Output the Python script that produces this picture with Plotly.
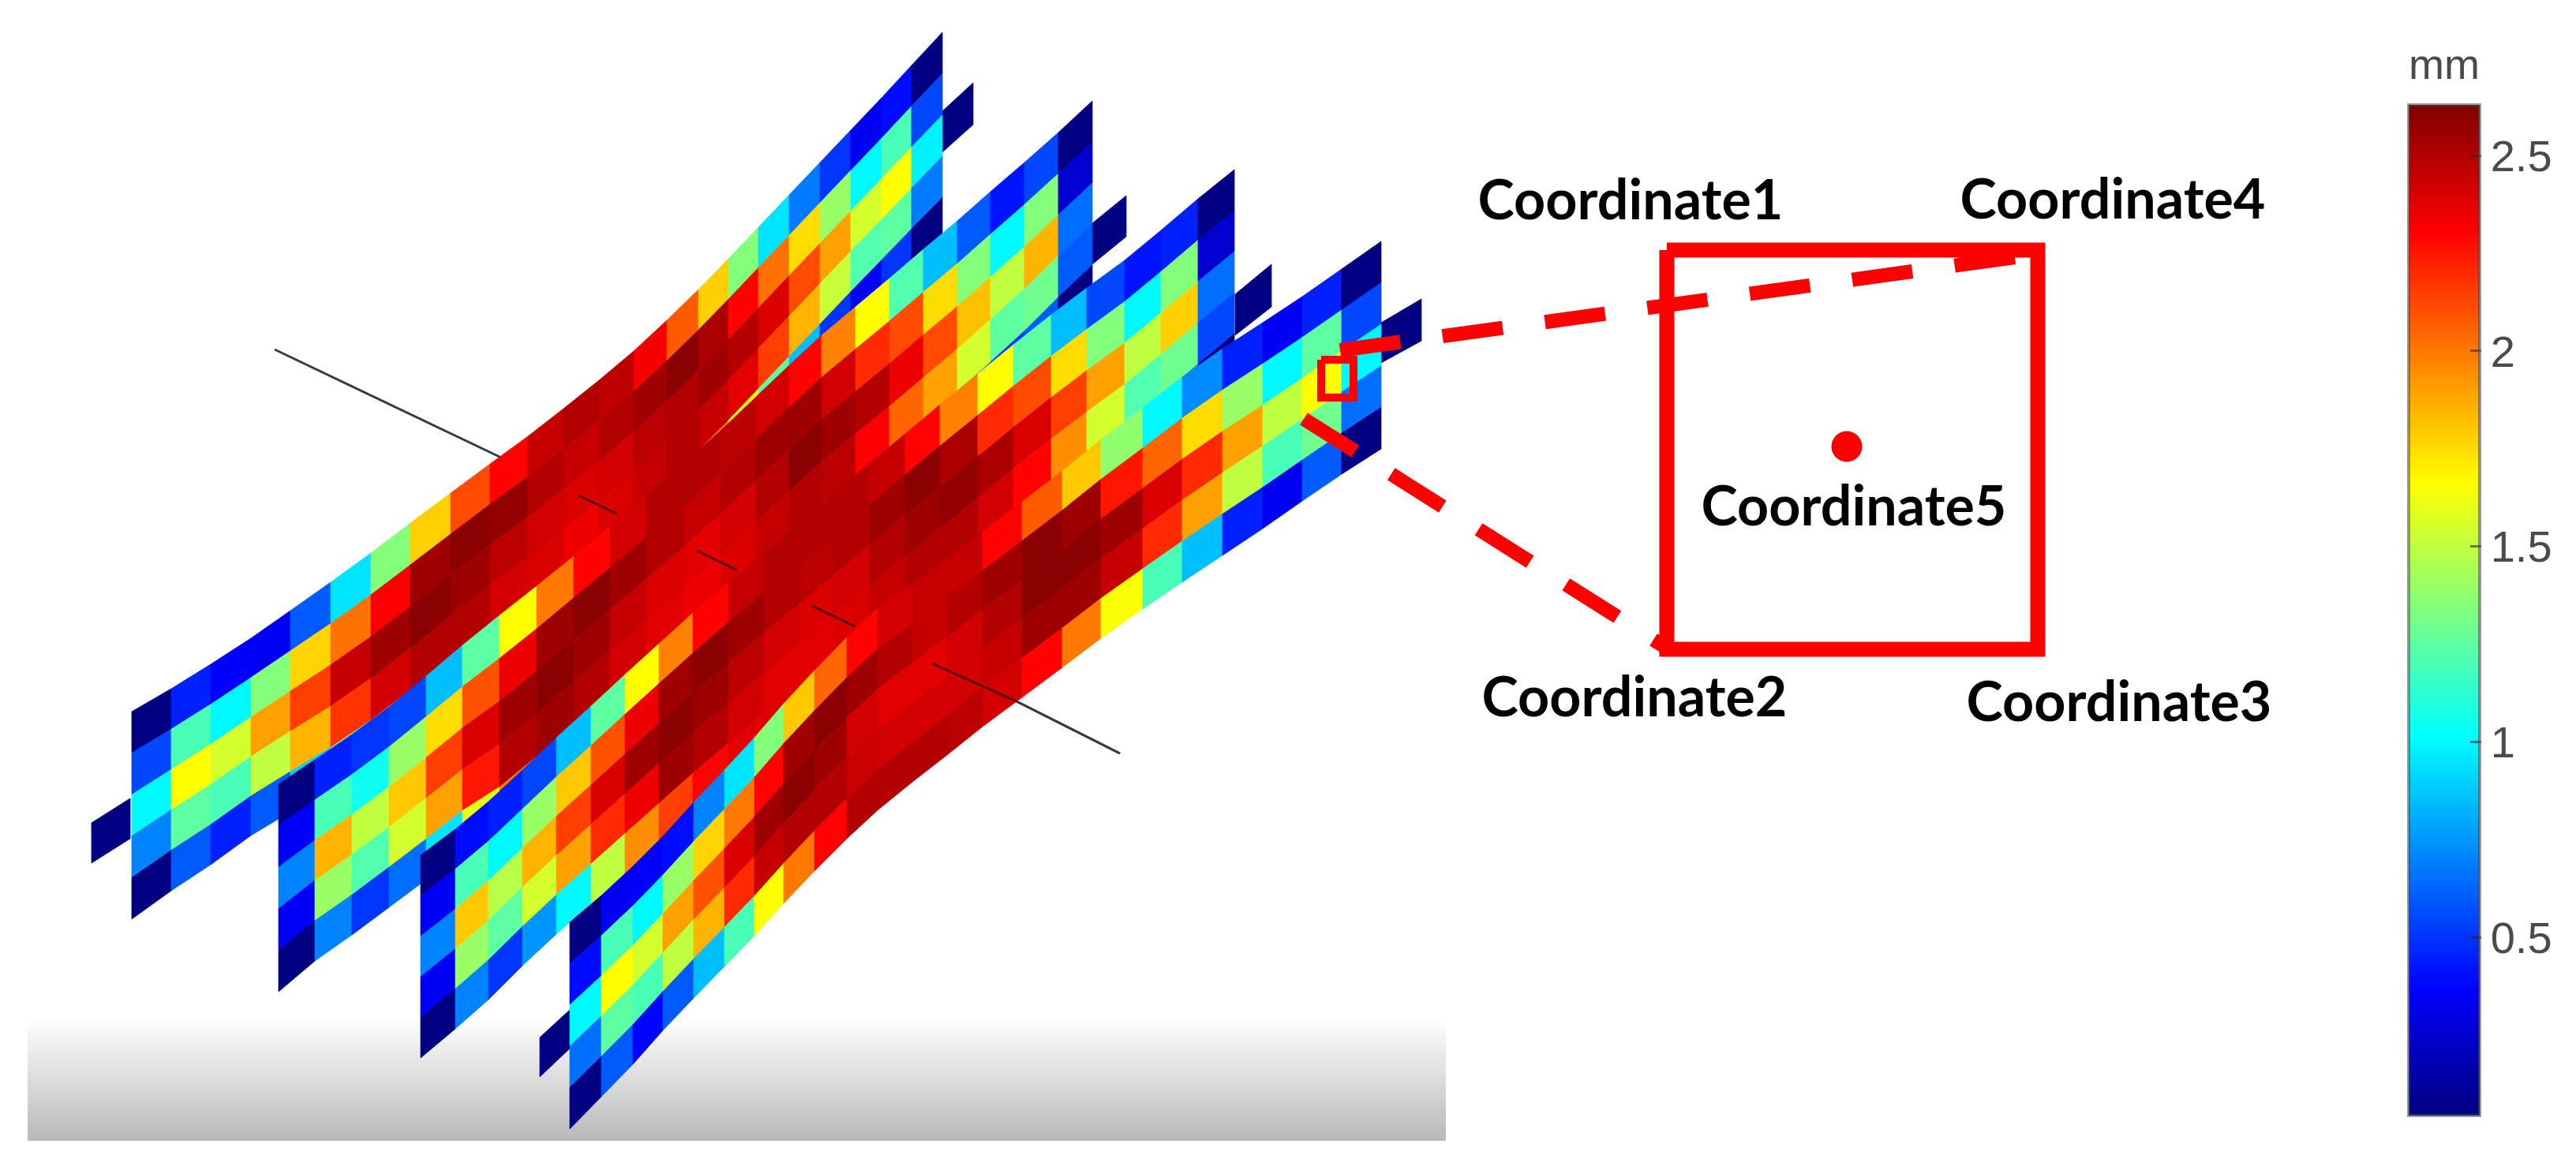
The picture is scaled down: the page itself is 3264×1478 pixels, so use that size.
import plotly.graph_objects as go
from plotly.colors import sample_colorscale

# ---------- colour scale ----------
VMIN, VMAX = 0.046, 2.63
JET = [[0, "#00007f"], [0.125, "#0000ff"], [0.375, "#00ffff"],
       [0.625, "#ffff00"], [0.875, "#ff0000"], [1, "#7f0000"]]
TICKS = [0.5, 1, 1.5, 2, 2.5]
TICK_LABELS = ["0.5", "1", "1.5", "2", "2.5"]

# ---------- mesh nodes of the four strips (image coordinates) ----------
A_x = [167,217,267,318,368,419,470,520,571,621,669,714,759,803,845,885,923,961,1000,1039,1078,1117,1155,1194]
A_top = [902,873,842,809,774,738,701,663,625,588,553,518,482,445,406,367,328,288,247,206,165,124,83,41]
A_bot = [1165,1129,1096,1059,1029,1000,966,928,885,844,809,774,738,701,662,623,584,544,503,462,421,381,342,303]

B_x = [353,399,446,493,540,586,633,680,727,773,819,866,913,958,1000,1041,1084,1127,1170,1213,1255,1298,1341,1384]
B_top = [994,963,931,896,857,818,780,743,705,667,628,588,546,503,463,425,389,353,316,280,243,206,168,128]
B_bot = [1257,1218,1185,1150,1115,1080,1052,1013,969,931,893,853,811,769,729,692,657,623,587,551,513,473,429,388]

C_x = [533,577,619,662,705,749,792,835,878,923,968,1012,1057,1102,1147,1191,1239,1284,1332,1377,1425,1471,1518,1564]
C_top = [1084,1051,1016,976,935,895,855,816,777,738,700,663,625,587,550,513,474,437,399,365,330,292,252,215]
C_bot = [1341,1304,1267,1224,1184,1145,1107,1069,1031,993,956,921,884,847,810,774,736,699,661,627,592,554,514,475]

D_x = [722,762,802,840,879,918,956,993,1032,1073,1112,1155,1200,1245,1295,1346,1395,1448,1498,1549,1600,1650,1700,1750]
D_top = [1169,1135,1098,1060,1017,976,935,892,850,808,771,741,708,674,636,597,557,517,478,442,409,376,341,306]
D_bot = [1431,1390,1349,1306,1265,1225,1186,1145,1104,1063,1027,992,957,921,884,846,809,772,738,704,670,635,601,569]

# ---------- values (mm), rows of each strip, top to bottom ----------
A_r0 = [.05,.45,.36,.35,.6,.95,1.35,1.78,2.12,2.3,2.45,2.5,2.47,2.33,2.08,1.78,1.35,.95,.68,.5,.33,.4,.05]
A_r1 = [.55,1.2,1.0,1.35,1.77,2.02,2.32,2.55,2.6,2.58,2.5,2.45,2.5,2.55,2.6,2.52,2.3,2.02,1.75,1.4,1.0,1.2,.55]
A_r2 = [1.0,1.66,1.55,1.9,2.15,2.45,2.55,2.6,2.55,2.48,2.42,2.4,2.42,2.48,2.5,2.55,2.5,2.4,2.12,1.9,1.55,1.66,.98]
A_r3 = [.7,1.25,1.2,1.5,1.85,2.18,2.42,2.5,2.5,2.42,2.4,2.35,2.4,2.45,2.5,2.45,2.38,2.15,1.85,1.52,1.22,1.25,.68]
A_r4 = [.05,.6,.45,.6,.9,1.3,1.7,2.0,2.25,2.35,2.4,2.42,2.4,2.35,2.2,2.0,1.66,1.25,.85,.5,.36,.5,.05]

B_r0 = [.05,.45,.5,.55,.85,1.25,1.66,2.0,2.3,2.42,2.5,2.5,2.48,2.42,2.3,1.98,1.66,1.22,.85,.6,.42,.55,.05]
B_r1 = [.35,1.2,1.05,1.4,1.75,2.1,2.35,2.55,2.6,2.55,2.5,2.45,2.5,2.55,2.55,2.42,2.2,2.12,1.75,1.35,1.0,1.35,.25]
B_r2 = [.7,1.85,1.5,1.8,2.15,2.4,2.55,2.6,2.55,2.45,2.4,2.38,2.42,2.5,2.6,2.55,2.5,2.35,2.12,1.82,1.5,1.85,.65]
B_r3 = [.35,1.4,1.22,1.55,1.9,2.25,2.5,2.55,2.5,2.42,2.38,2.35,2.4,2.45,2.5,2.48,2.32,2.05,1.9,1.55,1.25,1.3,.6]
B_r4 = [.05,.7,.5,.65,.95,1.6,2.0,2.3,2.38,2.4,2.4,2.42,2.4,2.38,2.3,2.0,1.6,1.25,.95,.7,.5,.6,.05]

C_r0 = [.05,.4,.45,.55,.85,1.25,1.66,1.98,2.3,2.45,2.5,2.5,2.5,2.45,2.3,1.98,1.66,1.25,.85,.55,.42,.45,.05]
C_r1 = [.35,1.2,1.0,1.4,1.8,2.1,2.35,2.55,2.6,2.55,2.5,2.48,2.5,2.55,2.6,2.52,2.2,2.12,1.75,1.35,1.0,1.35,.25]
C_r2 = [.7,1.8,1.48,1.85,2.15,2.4,2.55,2.6,2.55,2.48,2.42,2.4,2.42,2.5,2.55,2.58,2.52,2.4,2.15,1.9,1.5,1.78,.65]
C_r3 = [.35,1.4,1.25,1.55,1.9,2.2,2.35,2.55,2.5,2.42,2.38,2.38,2.4,2.45,2.5,2.5,2.42,2.3,1.95,1.55,1.22,1.3,.55]
C_r4 = [.05,.7,.5,.75,1.0,1.5,1.95,2.15,2.3,2.38,2.4,2.42,2.4,2.35,2.3,2.15,2.0,1.9,1.75,1.4,1.0,.7,.05]

D_r0 = [.05,.35,.36,.4,.7,.95,1.35,1.8,2.05,2.3,2.42,2.45,2.45,2.3,2.08,1.8,1.38,1.0,.72,.45,.35,.45,.05]
D_r1 = [.4,1.2,1.0,1.4,1.77,2.0,2.3,2.55,2.6,2.55,2.5,2.45,2.5,2.55,2.6,2.55,2.25,2.05,1.75,1.4,1.0,1.25,.55]
D_r2 = [1.0,1.66,1.55,1.9,2.1,2.4,2.55,2.6,2.55,2.42,2.38,2.38,2.42,2.5,2.6,2.6,2.55,2.4,2.2,1.9,1.5,1.66,1.0]
D_r3 = [.65,1.25,1.2,1.5,1.85,2.2,2.45,2.5,2.5,2.44,2.42,2.42,2.42,2.45,2.55,2.55,2.45,2.2,1.9,1.5,1.2,1.3,.65]
D_r4 = [.05,.6,.38,.6,.85,1.2,1.66,2.0,2.3,2.5,2.5,2.5,2.48,2.42,2.3,2.0,1.65,1.2,.85,.45,.33,.6,.05]

# grip tabs: x pair, top pair, bottom pair, value
TAB_VALUE = 0.05
A_tabs = [([116,165],[1043,1012],[1094,1063]), ([1194,1233],[141,105],[193,158])]
B_tabs = [([1384,1427],[283,248],[335,300])]
C_tabs = [([1565,1611],[373,335],[425,389])]
D_tabs = [([684,722],[1315,1280],[1365,1329]), ([1750,1801],[409,379],[460,432])]

# ---------- annotation data ----------
AXIS_OUT = [([348,635],[443,580]), ([1290,1419],[890,955])]
AXIS_IN = [([733,781],[628,651]), ([883,934],[698,723]), ([1029,1083],[768,794]), ([1181,1290],[841,890])]
FLOOR_X = [35, 1832, 1832, 35]
FLOOR_Y = [1290, 1290, 1446, 1446]
SMALL_X = [1674, 1715, 1715, 1674, 1674]
SMALL_Y = [456, 456, 504, 504, 456]
BIG_X = [2112, 2582, 2582, 2112, 2112]
BIG_Y = [317, 317, 823, 823, 317]
LEAD1_X, LEAD1_Y = [1698, 2554], [444, 326]
LEAD2_X, LEAD2_Y = [1652, 2108], [531, 819]
DOT_X, DOT_Y = [2340], [566]
LABELS = ["Coordinate1", "Coordinate4", "Coordinate5", "Coordinate2", "Coordinate3"]
LABEL_X = [2066, 2677, 2349, 2071, 2685]
LABEL_Y = [260, 259, 648, 890, 896]
BAR_TITLE = ["mm"]
BAR_TITLE_X, BAR_TITLE_Y = [3097], [86]

RED = "#ff0000"
fig = go.Figure()


def line(x, y, color, width, dash=None):
    fig.add_trace(go.Scatter(x=x, y=y, mode="lines",
                             line=dict(color=color, width=width, dash=dash),
                             hoverinfo="skip", showlegend=False))


# floor gradient
fig.add_trace(go.Scatter(x=FLOOR_X, y=FLOOR_Y, mode="lines", fill="toself",
                         line=dict(width=0), hoverinfo="skip", showlegend=False,
                         fillgradient=dict(type="vertical",
                                           colorscale=[[0, "#b8b8b8"], [1, "#ffffff"]])))

for ax, ay in AXIS_OUT:
    line(ax, ay, "#3a3a3a", 3)


def colour(v):
    return sample_colorscale(JET, [(v - VMIN) / (VMAX - VMIN)])[0]


def cell(xs, ys, v):
    c = colour(v)
    fig.add_trace(go.Scatter(x=xs + xs[:1], y=ys + ys[:1], mode="lines", fill="toself",
                             fillcolor=c, line=dict(color=c, width=0.8),
                             hoverinfo="skip", showlegend=False))


SHEETS = [
    (A_x, A_top, A_bot, [A_r0, A_r1, A_r2, A_r3, A_r4], A_tabs),
    (B_x, B_top, B_bot, [B_r0, B_r1, B_r2, B_r3, B_r4], B_tabs),
    (C_x, C_top, C_bot, [C_r0, C_r1, C_r2, C_r3, C_r4], C_tabs),
    (D_x, D_top, D_bot, [D_r0, D_r1, D_r2, D_r3, D_r4], D_tabs),
]
for xs, top, bot, rows, tabs in SHEETS:
    for tx, tt, tb in tabs:
        cell([tx[0], tx[1], tx[1], tx[0]], [tt[0], tt[1], tb[1], tb[0]], TAB_VALUE)
    n = len(rows)
    for r, row in enumerate(rows):
        for j, v in enumerate(row):
            h0 = bot[j] - top[j]
            h1 = bot[j + 1] - top[j + 1]
            cell([xs[j], xs[j + 1], xs[j + 1], xs[j]],
                 [top[j] + h0 * r / n, top[j + 1] + h1 * r / n,
                  top[j + 1] + h1 * (r + 1) / n, top[j] + h0 * (r + 1) / n], v)

# axis pieces visible through the strips
for ax, ay in AXIS_IN:
    line(ax, ay, "#5a0808", 3)
line(AXIS_OUT[1][0], AXIS_OUT[1][1], "#3a3a3a", 3)

# red marks
line(LEAD1_X, LEAD1_Y, RED, 18, "77px,54px")
line(LEAD2_X, LEAD2_Y, RED, 18, "77px,54px")
line(SMALL_X, SMALL_Y, RED, 10)
line(BIG_X, BIG_Y, RED, 19)
fig.add_trace(go.Scatter(x=DOT_X, y=DOT_Y, mode="markers",
                         marker=dict(color=RED, size=39, line=dict(width=0)),
                         hoverinfo="skip", showlegend=False))
fig.add_trace(go.Scatter(x=LABEL_X, y=LABEL_Y, mode="text", text=LABELS,
                         textposition="middle center",
                         textfont=dict(family="Lato", size=70, color="#000000", weight="bold"),
                         hoverinfo="skip", showlegend=False))
fig.add_trace(go.Scatter(x=BAR_TITLE_X, y=BAR_TITLE_Y, mode="text", text=BAR_TITLE,
                         textposition="middle center",
                         textfont=dict(family="Liberation Sans", size=54, color="#4a4a4a"),
                         hoverinfo="skip", showlegend=False))

# colour bar
fig.add_trace(go.Scatter(
    x=[3097], y=[700], mode="markers", hoverinfo="skip", showlegend=False,
    marker=dict(size=1, color=[1.0], cmin=VMIN, cmax=VMAX, colorscale=JET,
                colorbar=dict(
                    thicknessmode="pixels", thickness=90, lenmode="pixels", len=1281,
                    x=3052 / 3264, xanchor="left", y=1 - 132.6 / 1478, yanchor="top",
                    xpad=0, ypad=0, outlinewidth=4, outlinecolor="rgba(70,70,70,0.55)",
                    tickmode="array", tickvals=TICKS, ticktext=TICK_LABELS,
                    ticks="inside", ticklen=14, tickwidth=3,
                    tickcolor="rgba(40,40,40,0.6)",
                    tickfont=dict(family="Liberation Sans", size=56, color="#4a4a4a"),
                ))))

fig.update_layout(
    width=3264, height=1478, autosize=False,
    margin=dict(l=0, r=0, t=0, b=0, autoexpand=False),
    paper_bgcolor="#ffffff", plot_bgcolor="#ffffff", showlegend=False,
    xaxis=dict(range=[0, 3264], visible=False, fixedrange=True),
    yaxis=dict(range=[1478, 0], visible=False, fixedrange=True),
)
fig.write_html("out.html", config={"displayModeBar": False},
               post_script="document.body.style.margin='0';")
